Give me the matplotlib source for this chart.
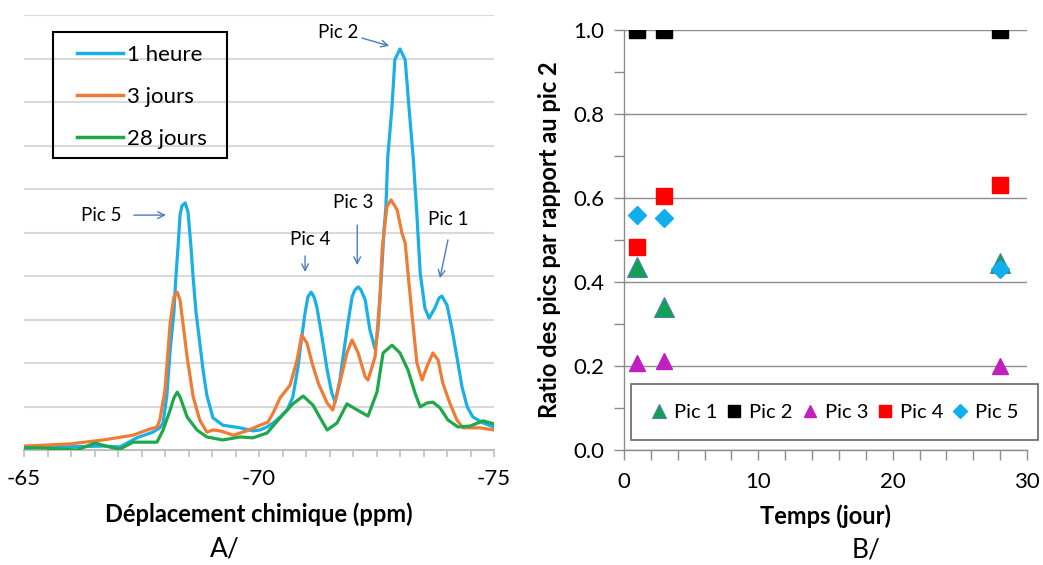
import matplotlib
matplotlib.use("Agg")
import matplotlib.pyplot as plt
from matplotlib.lines import Line2D
from matplotlib.patches import Rectangle

plt.rcParams['font.family'] = ['Lato', 'DejaVu Sans']
plt.rcParams['axes.unicode_minus'] = False

# ---------------- Panel A data (ppm, intensity in arbitrary units) ----------------
ppm_1h = [-65.00, -65.77, -66.68, -67.04, -67.40, -67.74, -67.89, -67.96, -68.04, -68.11,
          -68.19, -68.23, -68.28, -68.32, -68.36, -68.43, -68.49, -68.55, -68.60, -68.66,
          -68.72, -68.81, -68.89, -69.02, -69.23, -69.60, -69.87, -70.02, -70.17, -70.30,
          -70.45, -70.60, -70.72, -70.83, -70.91, -70.98, -71.04, -71.11, -71.17, -71.23,
          -71.34, -71.45, -71.55, -71.62, -71.72, -71.81, -71.87, -71.98, -72.04, -72.11,
          -72.17, -72.26, -72.36, -72.47, -72.53, -72.60, -72.66, -72.70, -72.74, -72.83,
          -72.89, -73.00, -73.11, -73.19, -73.28, -73.36, -73.43, -73.53, -73.62, -73.74,
          -73.83, -73.89, -74.00, -74.11, -74.21, -74.32, -74.43, -74.55, -74.77, -75.00]
int_1h = [0.05, 0.07, 0.09, 0.07, 0.28, 0.41, 0.51, 0.62, 1.26, 2.30,
          3.17, 3.95, 4.71, 5.40, 5.61, 5.68, 5.47, 4.71, 3.95, 3.17,
          2.64, 1.84, 1.26, 0.74, 0.57, 0.51, 0.44, 0.46, 0.53, 0.62,
          0.76, 0.92, 1.22, 1.91, 2.60, 3.15, 3.52, 3.63, 3.52, 3.29,
          2.60, 1.84, 1.31, 1.10, 1.61, 2.30, 2.76, 3.52, 3.68, 3.75,
          3.68, 3.45, 2.76, 2.32, 2.76, 3.91, 5.06, 5.59, 6.74, 7.89,
          8.97, 9.22, 8.97, 7.89, 6.74, 5.40, 4.07, 3.26, 3.03, 3.26,
          3.49, 3.54, 3.33, 2.76, 2.14, 1.45, 0.99, 0.76, 0.62, 0.53]

ppm_3j = [-65.00, -65.98, -66.68, -67.32, -67.62, -67.83, -67.89, -68.00, -68.11, -68.19,
          -68.26, -68.32, -68.40, -68.47, -68.60, -68.74, -68.89, -69.02, -69.17, -69.32,
          -69.45, -69.74, -70.02, -70.19, -70.30, -70.45, -70.66, -70.81, -70.91, -71.02,
          -71.13, -71.26, -71.45, -71.57, -71.72, -71.87, -71.98, -72.11, -72.26, -72.32,
          -72.47, -72.57, -72.62, -72.72, -72.81, -72.94, -73.04, -73.11, -73.17, -73.26,
          -73.36, -73.47, -73.57, -73.70, -73.81, -73.91, -74.06, -74.21, -74.34, -74.70,
          -75.00]
int_3j = [0.09, 0.14, 0.23, 0.34, 0.46, 0.53, 0.69, 1.38, 2.92, 3.52,
          3.63, 3.45, 2.76, 2.14, 1.22, 0.69, 0.41, 0.46, 0.44, 0.39,
          0.34, 0.44, 0.57, 0.64, 0.85, 1.20, 1.49, 2.07, 2.64, 2.46,
          2.00, 1.54, 1.08, 0.92, 1.54, 2.23, 2.53, 2.23, 1.68, 1.61,
          2.14, 3.45, 4.60, 5.59, 5.75, 5.52, 4.99, 4.76, 4.07, 3.06,
          2.00, 1.61, 1.91, 2.23, 2.07, 1.54, 1.08, 0.69, 0.51, 0.51,
          0.46]

ppm_28j = [-65.00, -65.34, -66.13, -66.51, -66.89, -67.04, -67.32, -67.83, -67.96, -68.11,
           -68.19, -68.26, -68.32, -68.47, -68.68, -68.89, -69.23, -69.60, -69.87, -70.17,
           -70.45, -70.72, -70.94, -71.15, -71.30, -71.45, -71.66, -71.87, -72.09, -72.32,
           -72.51, -72.64, -72.83, -73.00, -73.17, -73.32, -73.43, -73.57, -73.70, -73.85,
           -74.02, -74.23, -74.49, -74.77, -75.00]
int_28j = [0.05, 0.05, 0.00, 0.16, 0.05, 0.02, 0.18, 0.18, 0.46, 0.92,
           1.20, 1.33, 1.22, 0.76, 0.46, 0.30, 0.23, 0.30, 0.28, 0.39,
           0.74, 1.06, 1.24, 1.03, 0.74, 0.46, 0.62, 1.06, 0.92, 0.78,
           1.33, 2.23, 2.41, 2.23, 1.84, 1.31, 0.99, 1.08, 1.10, 0.97,
           0.69, 0.53, 0.55, 0.67, 0.60]

series_A = ["1 heure", "3 jours", "28 jours"]
colors_A = ["#1AAFE6", "#F07B35", "#1EA84A"]

# Peak annotations: label, text position (ppm, int), arrow tail, arrow head
pic_labels = ["Pic 5", "Pic 4", "Pic 3", "Pic 2", "Pic 1"]
pic_text = [(-66.64, 5.38), (-71.09, 4.83), (-72.00, 5.68), (-71.68, 9.59), (-74.02, 5.29)]
pic_tail = [(-67.34, 5.40), (-70.98, 4.46), (-72.09, 5.17), (-72.19, 9.47), (-74.02, 4.83)]
pic_head = [(-68.02, 5.40), (-70.98, 4.09), (-72.09, 4.25), (-72.77, 9.29), (-73.85, 3.95)]

# ---------------- Panel B data ----------------
temps = [1, 3, 28]
pic1 = [0.435, 0.340, 0.445]
pic2 = [1.0, 1.0, 1.0]
pic3 = [0.207, 0.212, 0.200]
pic4 = [0.483, 0.605, 0.630]
pic5 = [0.560, 0.552, 0.430]

W, H = 1043, 565
fig = plt.figure(figsize=(W/100, H/100), dpi=100)

# ================= Panel A =================
axA = fig.add_axes([24/W, 1-450/H, 470/W, 435/H])
for p, v, c in zip([ppm_1h, ppm_3j, ppm_28j], [int_1h, int_3j, int_28j], colors_A):
    axA.plot(p, v, color=c, lw=2.3, solid_joinstyle='round', solid_capstyle='round', zorder=3)
axA.set_xlim(-65, -75)
axA.set_ylim(0, 10)
axA.set_yticks(range(0, 11))
axA.tick_params(axis='y', left=False, labelleft=False)
axA.grid(axis='y', color='#d9d9d9', lw=1.5, zorder=0)
axA.set_axisbelow(True)
for s in ['left', 'right', 'top']:
    axA.spines[s].set_visible(False)
axA.spines['bottom'].set_color('#bfbfbf')
axA.spines['bottom'].set_linewidth(1.5)
axA.set_xticks([-65, -70, -75])
axA.set_xticks([-65 - 0.5*i for i in range(21)], minor=True)
axA.tick_params(axis='x', which='both', direction='out', length=5, color='#bfbfbf', width=1.2)
axA.tick_params(axis='x', labelsize=16, pad=9)
axA.set_xlabel("Déplacement chimique (ppm)", fontsize=17, fontweight='bold', labelpad=9)

for lab, t, a, h in zip(pic_labels, pic_text, pic_tail, pic_head):
    axA.text(t[0], t[1], lab, fontsize=13.5, ha='center', va='center')
    axA.annotate("", xy=h, xytext=a,
                 arrowprops=dict(arrowstyle='->', color='#4a7ebb', lw=1.0,
                                 mutation_scale=12, shrinkA=0, shrinkB=0))

# legend box (frame drawn separately to match the wide side padding)
fig.patches.append(Rectangle((53/W, 1-158/H), 174/W, 126/H, transform=fig.transFigure,
                             fill=False, edgecolor='black', lw=1.5, zorder=5))
handlesA = [Line2D([0], [0], color=c, lw=2.5) for c in colors_A]
legA = axA.legend(handlesA, series_A, loc='upper left',
                  bbox_to_anchor=(77/W, 1-45/H), bbox_transform=fig.transFigure,
                  fontsize=16, frameon=False,
                  handlelength=2.05, handletextpad=0.2, labelspacing=0.98,
                  borderpad=0, borderaxespad=0)

fig.text(225/W, 1-549/H, "A/", fontsize=19, ha='center', va='center')

# ================= Panel B =================
axB = fig.add_axes([624/W, 1-450/H, 403/W, 420/H])
axB.plot(temps, pic1, linestyle='none', marker='^', ms=14, mfc='#12A052', mec='#4a7ebb', mew=0.8, label='Pic 1', zorder=3)
axB.plot(temps, pic2, linestyle='none', marker='s', ms=11, mfc='black', mec='black', label='Pic 2', zorder=3)
axB.plot(temps, pic3, linestyle='none', marker='^', ms=11, mfc='#C020C0', mec='#C020C0', label='Pic 3', zorder=3)
axB.plot(temps, pic4, linestyle='none', marker='s', ms=11, mfc='#FF0000', mec='#FF0000', label='Pic 4', zorder=3)
axB.plot(temps, pic5, linestyle='none', marker='D', ms=9, mfc='#10AEEC', mec='#10AEEC', label='Pic 5', zorder=4)
axB.set_xlim(0, 30)
axB.set_ylim(0, 1.0)
axB.set_xticks([0, 10, 20, 30])
axB.set_xticks(range(0, 31, 2), minor=True)
axB.set_yticks([0, 0.2, 0.4, 0.6, 0.8, 1.0])
axB.set_yticks([i/10 for i in range(11)], minor=True)
axB.yaxis.set_major_formatter(matplotlib.ticker.FormatStrFormatter('%.1f'))
axB.grid(axis='y', which='major', color='#8c8c8c', lw=1.0, zorder=0)
axB.set_axisbelow(True)
for s in ['right', 'top']:
    axB.spines[s].set_visible(False)
for s in ['left', 'bottom']:
    axB.spines[s].set_color('#8c8c8c')
    axB.spines[s].set_linewidth(1.0)
axB.tick_params(axis='both', which='both', direction='out', length=7, color='#8c8c8c', width=1.0)
axB.tick_params(axis='both', labelsize=16)
axB.tick_params(axis='x', pad=9)
axB.tick_params(axis='y', pad=7)
axB.set_xlabel("Temps (jour)", fontsize=17, fontweight='bold', labelpad=9)
axB.set_ylabel("Ratio des pics par rapport au pic 2", fontsize=17, fontweight='bold', labelpad=9)

legB = axB.legend(loc='center', bbox_to_anchor=((631+1038)/2/W, 1-412/H),
                  bbox_transform=fig.transFigure, ncol=5, fontsize=14.5, frameon=True,
                  fancybox=False, edgecolor='#404040', handlelength=0.9, handletextpad=0.3,
                  columnspacing=0.38, borderpad=0.95, borderaxespad=0, markerscale=0.75)
legB.get_frame().set_linewidth(1.2)

fig.text(866/W, 1-550/H, "B/", fontsize=19, ha='center', va='center')

fig.savefig("out.png", dpi=100, facecolor='white')
